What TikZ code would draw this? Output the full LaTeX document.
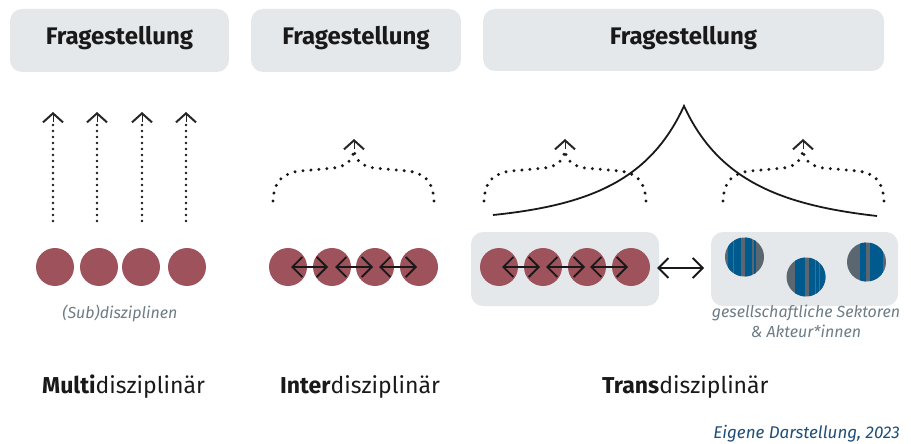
\documentclass[tikz,border=0pt]{standalone}
\usepackage{fontspec}
\setmainfont{Fira Sans}
\usetikzlibrary{arrows.meta}
\definecolor{boxgray}{HTML}{E5E8EB}
\definecolor{maroon}{HTML}{9E525C}
\definecolor{stripeblue}{HTML}{005A8E}
\definecolor{stripegray}{HTML}{5B6770}
\definecolor{labelgray}{HTML}{6E7C86}
\definecolor{srcblue}{HTML}{1F4E79}
\tikzset{
  head/.style={fill=boxgray, rounded corners=12pt, draw=none},
  headtext/.style={font=\fontsize{24}{28}\selectfont\bfseries, text=black!90, anchor=base, inner sep=0pt},
  disc/.style={circle, fill=maroon, draw=none, minimum size=38pt, inner sep=0pt},
  sdisc/.style={circle, draw=none, minimum size=39pt, inner sep=0pt},
  dots/.style={line width=2.6pt, line cap=round, dash pattern=on 0pt off 6pt, black!90},
  bdots/.style={line width=3.3pt, line cap=round, dash pattern=on 0pt off 8pt, black!90},
  chev/.style={-{Straight Barb[length=9pt,width=20pt,line width=2pt]}},
  dbl/.style={line width=1.6pt, black!90, {Straight Barb[length=10pt,width=20pt,line width=1.8pt]}-{Straight Barb[length=10pt,width=20pt,line width=1.8pt]}},
  captext/.style={font=\fontsize{23}{27}\selectfont, text=black!90, anchor=base west, inner sep=0pt},
  note/.style={font=\fontsize{16}{20}\selectfont\itshape, text=labelgray, align=center, anchor=base, inner sep=0pt},
}
\begin{document}
\begin{tikzpicture}[x=1pt,y=-1pt]
\path[use as bounding box] (0,0) rectangle (911,444);

% header boxes
\fill[head] (10,9) rectangle (229,72);
\fill[head] (251,9) rectangle (461,72);
\fill[head] (483,9) rectangle (884,71);
\node[headtext] (h1) at (119.5,45) {Fragestellung};
\node[headtext] (h2) at (356,45) {Fragestellung};
\node[headtext] (h3) at (683.5,45) {Fragestellung};

% ---------- Multi ----------
\foreach \i/\x in {1/55,2/99,3/141,4/187}{
  \node[disc] (m\i) at (\x,267) {};
}
\foreach \i/\x in {1/53,2/97,3/142,4/186}{
  \coordinate (ms\i) at (\x,221);
  \coordinate (mt\i) at (\x,112);
  \draw[dots] (ms\i) -- ([yshift=-8]mt\i);
  \draw[chev, line width=0pt, draw=black!85] ([yshift=-9]mt\i) -- (mt\i);
}
\node[note] (sub) at (120,318) {(Sub)disziplinen};

% ---------- Inter ----------
\foreach \i/\x in {1/288,2/332,3/375,4/419}{
  \node[disc] (i\i) at (\x,267) {};
}
\draw[dbl] ([xshift=3]i1.center) -- ([xshift=-4]i2.center);
\draw[dbl] ([xshift=3]i2.center) -- ([xshift=-2]i3.center);
\draw[dbl] ([xshift=4]i3.center) -- ([xshift=-2]i4.center);

\coordinate (il) at (273,201);
\coordinate (ir) at (434,201);
\coordinate (it) at (354,139);
\draw[bdots] (il) .. controls (274,180) and (284,173) .. (300,171)
  -- (334,168) .. controls (348,166) and (354,158) .. (354,148);
\draw[bdots] (ir) .. controls (433,180) and (423,173) .. (408,171)
  -- (374,168) .. controls (360,166) and (354,158) .. (354,148);
\draw[chev, line width=0pt, draw=black!85] ([yshift=-9]it) -- (it);

% ---------- Trans ----------
\fill[head] (471,232) rectangle (659,306);
\fill[head] (711,232) rectangle (898,306);
\foreach \i/\x in {1/499,2/543,3/587,4/631}{
  \node[disc] (t\i) at (\x,267) {};
}
\draw[dbl] ([xshift=3]t1.center) -- ([xshift=-3]t2.center);
\draw[dbl] ([xshift=3]t2.center) -- ([xshift=-2]t3.center);
\draw[dbl] ([xshift=3]t3.center) -- ([xshift=-3]t4.center);
\draw[dbl] (t4.east) ++(7,1) coordinate (ma) -- (704,268) coordinate (mb);

% striped circles
\node[sdisc] (s1) at (744.5,257) {};
\node[sdisc] (s2) at (806,277) {};
\node[sdisc] (s3) at (866.5,262) {};
\begin{scope}
  \clip (s1.center) circle (19.5);
  \fill[stripegray] (724,237) rectangle (765,277);
  \fill[stripeblue] (727.5,237) rectangle (733,277);
  \fill[stripeblue] (734.3,237) rectangle (741,277);
  \fill[stripeblue] (745,237) rectangle (752,277);
  \fill[stripeblue] (754,237) rectangle (756,277);
\end{scope}
\begin{scope}
  \clip (s2.center) circle (19.5);
  \fill[stripegray] (786,257) rectangle (827,297);
  \fill[stripeblue] (795,257) rectangle (805,297);
  \fill[stripeblue] (809,257) rectangle (814.5,297);
  \fill[stripeblue] (815.5,257) rectangle (819,297);
  \fill[stripeblue] (820,257) rectangle (827,297);
\end{scope}
\begin{scope}
  \clip (s3.center) circle (19.5);
  \fill[stripegray] (846,242) rectangle (887,282);
  \fill[stripeblue] (860,242) rectangle (866,282);
  \fill[stripeblue] (870,242) rectangle (883,282);
\end{scope}

% dotted braces (trans)
\coordinate (al) at (484,201);
\coordinate (ar) at (646,201);
\coordinate (at) at (565,139);
\draw[bdots] (al) .. controls (485,180) and (495,173) .. (511,171)
  -- (545,168) .. controls (559,166) and (565,158) .. (565,148);
\draw[bdots] (ar) .. controls (645,180) and (635,173) .. (620,171)
  -- (585,168) .. controls (571,166) and (565,158) .. (565,148);
\draw[chev, line width=0pt, draw=black!85] ([yshift=-9]at) -- (at);

\coordinate (bl) at (723,201);
\coordinate (br) at (884,201);
\coordinate (bt) at (803,139);
\draw[bdots] (bl) .. controls (724,180) and (734,173) .. (750,171)
  -- (784,168) .. controls (797,166) and (803,158) .. (803,148);
\draw[bdots] (br) .. controls (883,180) and (873,173) .. (858,171)
  -- (823,168) .. controls (809,166) and (803,158) .. (803,148);
\draw[chev, line width=0pt, draw=black!85] ([yshift=-9]bt) -- (bt);

% big curve
\coordinate (cl) at (493,215);
\coordinate (cp) at (684,106);
\coordinate (cr) at (877,216);
\draw[line width=1.8pt, black!90, line join=miter] (cl) .. controls (590,205) and (650,180) .. (cp)
  .. controls (718,180) and (780,205) .. (cr);

\node[note] (soc) at (806,337) {gesellschaftliche Sektoren\\\& Akteur*innen};

% captions
\node[captext] (cm) at (42,393) {\textbf{Multi}disziplinär};
\node[captext] (ci) at (280,393) {\textbf{Inter}disziplinär};
\node[captext] (ct) at (602,393) {\textbf{Trans}disziplinär};
\node[font=\fontsize{17}{20}\selectfont\itshape, text=srcblue, anchor=base east, inner sep=0pt] (src) at (900,438) {Eigene Darstellung, 2023};
\end{tikzpicture}
\end{document}
